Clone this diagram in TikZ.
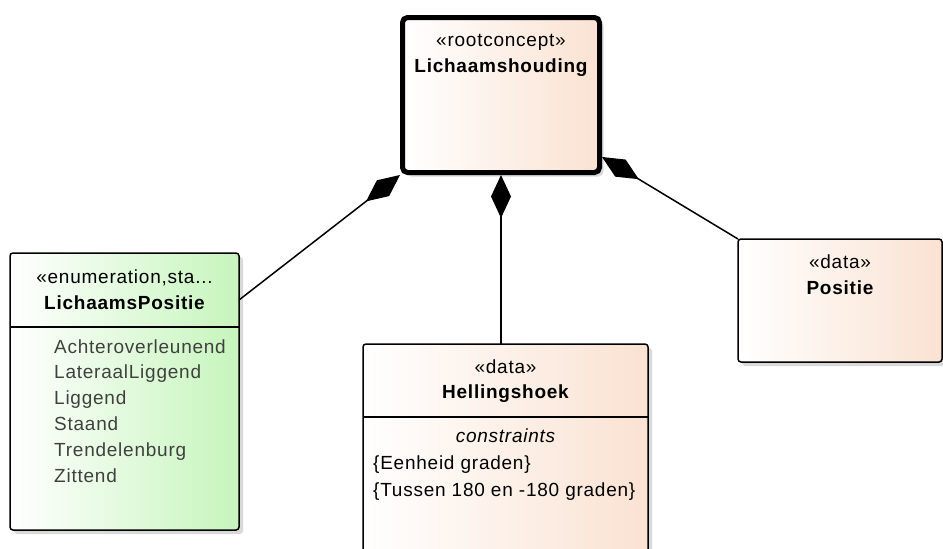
\documentclass[tikz,border=0pt]{standalone}
\usepackage{fontspec}
\setmainfont{Liberation Sans}[LetterSpace=4]
\usetikzlibrary{calc,shadows,arrows.meta}

\definecolor{peach}{RGB}{250,226,210}
\definecolor{mint}{RGB}{198,245,188}
\definecolor{litgray}{RGB}{64,64,64}

\tikzset{
  classbox/.style={draw, rounded corners=3pt, line width=1.5pt, outer sep=0pt,
    inner sep=0pt, anchor=north west, left color=white, right color=peach,
    drop shadow={shadow xshift=4pt, shadow yshift=-4pt, fill=black!15, opacity=1}},
  rootbox/.style={classbox, line width=5pt, rounded corners=5pt, outer sep=2.5pt},
  enumbox/.style={classbox, right color=mint},
  stereo/.style={anchor=base, inner sep=0pt, font=\fontsize{19}{25}\selectfont},
  nametext/.style={stereo, font=\fontsize{19}{25}\selectfont\bfseries},
  literal/.style={anchor=base west, inner sep=0pt, text=litgray,
    font=\fontsize{19}{25}\selectfont},
  constr/.style={anchor=base west, inner sep=0pt, font=\fontsize{19}{25}\selectfont},
  comp/.style={{Diamond[length=43pt,width=20pt]}-, line width=1.5pt},
}

\begin{document}
\begin{tikzpicture}[x=1pt,y=-1pt]
  \useasboundingbox (0,0) rectangle (943,549);

  %% Boxes
  \node[rootbox, minimum width=197pt, minimum height=155pt] (root) at (400,15) {};
  \node[enumbox, minimum width=229pt, minimum height=277pt] (lp) at (10,253) {};
  \node[classbox, minimum width=285pt, minimum height=230pt] (hh) at (363,344) {};
  \node[classbox, minimum width=204pt, minimum height=123pt] (pos) at (738,239) {};

  %% Compartment lines
  \draw[line width=1.5pt] ($(lp.north west)+(0,74)$) -- ($(lp.north east)+(0,74)$);
  \draw[line width=1.5pt] ($(hh.north west)+(0,73)$) -- ($(hh.north east)+(0,73)$);

  %% Headers
  \node[stereo] (rootS) at ($(root.north)+(0,31)$) {«rootconcept»};
  \node[nametext] (rootN) at ($(root.north)+(0,57)$) {Lichaamshouding};
  \node[stereo] (lpS) at ($(lp.north)+(0,30)$) {«enumeration,sta...};
  \node[nametext] (lpN) at ($(lp.north)+(0,56)$) {LichaamsPositie};
  \node[stereo] (hhS) at ($(hh.north)+(0,29)$) {«data»};
  \node[nametext] (hhN) at ($(hh.north)+(0,54)$) {Hellingshoek};
  \node[stereo] (posS) at ($(pos.north)+(0,29)$) {«data»};
  \node[nametext] (posN) at ($(pos.north)+(0,55)$) {Positie};

  %% Enumeration literals
  \foreach \lit [count=\i from 0] in {Achteroverleunend,LateraalLiggend,Liggend,Staand,Trendelenburg,Zittend}
  {
    \node[literal] (lit\i) at ($(lp.north west)+(44,100+25.8*\i)$) {\lit};
  }

  %% Constraints
  \node[stereo, font=\fontsize{19}{25}\selectfont\itshape] (hhC) at ($(hh.north)+(0,98)$) {constraints};
  \node[constr] (hhC1) at ($(hh.north west)+(10,125)$) {\{Eenheid graden\}};
  \node[constr] (hhC2) at ($(hh.north west)+(10,152)$) {\{Tussen 180 en -180 graden\}};

  %% Composition connectors
  \coordinate (lpR) at ($(lp.north east)+(0,47)$);
  \coordinate (rootR) at ($(root.north east)+(0,142)$);
  \draw[comp] (root.south west) -- (lpR);
  \draw[comp] (root.south) -- (root.south |- hh.north);
  \draw[comp] (rootR) -- (pos.north west);
\end{tikzpicture}
\end{document}
